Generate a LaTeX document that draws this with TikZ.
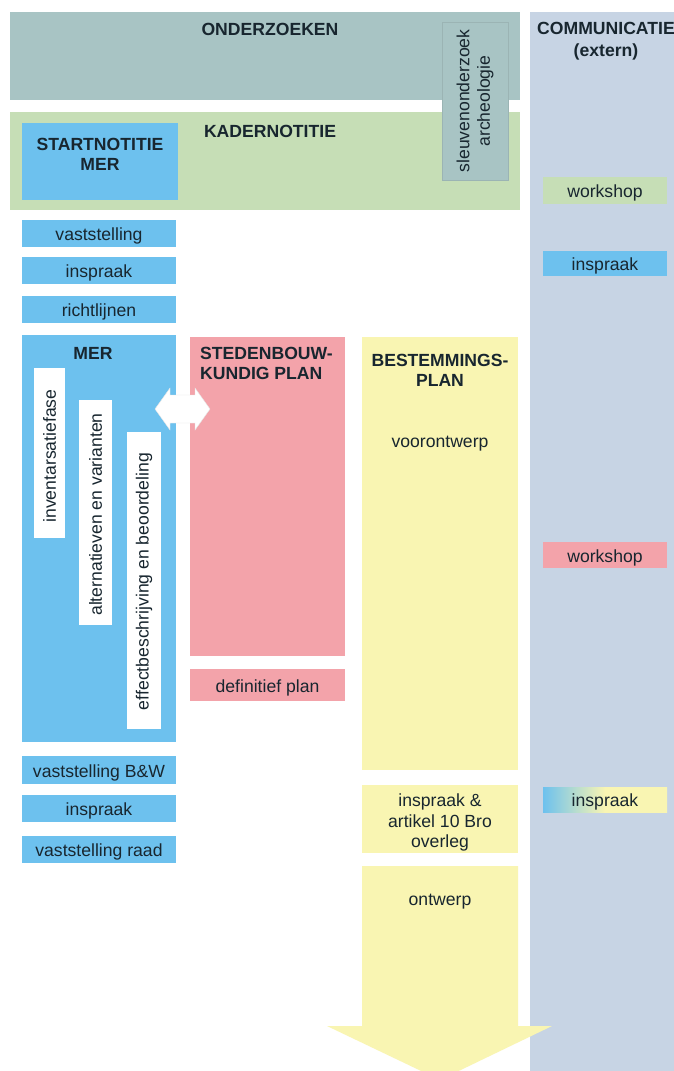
\documentclass[tikz,border=0pt]{standalone}
\usepackage{fontspec}
\setmainfont{Liberation Sans}
\definecolor{cteal}{HTML}{A8C4C4}
\definecolor{cgreen}{HTML}{C6DEB6}
\definecolor{cblue}{HTML}{6DC1EE}
\definecolor{cpink}{HTML}{F3A3AA}
\definecolor{cyellow}{HTML}{F9F5B2}
\definecolor{ccomm}{HTML}{C7D4E4}
\definecolor{ctext}{HTML}{18262F}
\begin{document}
\begin{tikzpicture}[x=1pt,y=-1pt,
  area/.style={draw=none, inner sep=0, outer sep=0, anchor=north west},
  lbl/.style={font=\fontsize{17.6}{20}\selectfont\bfseries, text=ctext, align=center, inner sep=0},
  rtxt/.style={font=\fontsize{17.6}{20.5}\selectfont, text=ctext, align=center, inner sep=0},
  txt/.style={rtxt, yshift=-2.5pt},
  wbox/.style={area, fill=white}
]
\useasboundingbox (0,0) rectangle (674,1071);
\fill[white] (0,0) rectangle (674,1071);

% communication column
\node[area, fill=ccomm, minimum width=144, minimum height=1060] (comm) at (530,12) {};
\node[lbl] (commt) at (606,41) {COMMUNICATIE\\[2pt](extern)};

% onderzoeken
\node[area, fill=cteal, minimum width=510, minimum height=88] (onz) at (10,12) {};
\node[lbl] (onzt) at (270,29) {ONDERZOEKEN};

% kadernotitie
\node[area, fill=cgreen, minimum width=510, minimum height=98] (kad) at (10,112) {};
\node[lbl] (kadt) at (270,131) {KADERNOTITIE};
\node[area, fill=cblue, minimum width=156, minimum height=77] (start) at (22,123) {};
\node[lbl] (startt) at (100,154) {STARTNOTITIE\\MER};

% sleuvenonderzoek
\node[area, fill=cteal, draw=cteal!92!black, line width=0.3pt, minimum width=66, minimum height=158] (sleuv) at (442,22) {};
\node[rtxt, rotate=90] (sleuvt) at (sleuv.center) {sleuvenonderzoek\\archeologie};

% communication items
\node[area, fill=cgreen, minimum width=124, minimum height=27] (ws1) at (543,177) {};
\node[txt] at (ws1.center) {workshop};
\node[area, fill=cblue, minimum width=124, minimum height=25] (insp1) at (543,251) {};
\node[txt] at (insp1.center) {inspraak};
\node[area, fill=cpink, minimum width=124, minimum height=26] (ws2) at (543,542) {};
\node[txt] at (ws2.center) {workshop};
\node[area, left color=cblue, right color=cyellow, middle color=cyellow, minimum width=124, minimum height=25] (insp2) at (543,787) {};
\node[txt] at (insp2.center) {inspraak};

% MER column
\node[area, fill=cblue, minimum width=154, minimum height=27] (vst) at (22,220) {};
\node[txt] at (vst.center) {vaststelling};
\node[area, fill=cblue, minimum width=154, minimum height=27] (insp) at (22,257) {};
\node[txt] at (insp.center) {inspraak};
\node[area, fill=cblue, minimum width=154, minimum height=27] (richt) at (22,296) {};
\node[txt] at (richt.center) {richtlijnen};

\node[area, fill=cblue, minimum width=154, minimum height=407] (mer) at (22,335) {};
\node[lbl] (mert) at (93,353) {MER};
\node[wbox, minimum width=31, minimum height=170] (inv) at (34,368) {};
\node[rtxt, rotate=90] at ([yshift=-3pt]inv.center) {inventarsatiefase};
\node[wbox, minimum width=33, minimum height=225] (alt) at (79,400) {};
\node[rtxt, rotate=90] at ([yshift=-2pt]alt.center) {alternatieven en varianten};
\node[wbox, minimum width=34, minimum height=297] (eff) at (127,432) {};
\node[rtxt, rotate=90] at ([yshift=-1pt]eff.center) {effectbeschrijving en beoordeling};

\node[area, fill=cblue, minimum width=154, minimum height=28] (vbw) at (22,756) {};
\node[txt] at (vbw.center) {vaststelling B\&W};
\node[area, fill=cblue, minimum width=154, minimum height=27] (insp3) at (22,795) {};
\node[txt] at (insp3.center) {inspraak};
\node[area, fill=cblue, minimum width=154, minimum height=27] (vr) at (22,836) {};
\node[txt] at (vr.center) {vaststelling raad};

% stedenbouwkundig plan
\node[area, fill=cpink, minimum width=155, minimum height=319] (stb) at (190,337) {};
\node[lbl, align=left, anchor=north west] (stbt) at (200,347) {STEDENBOUW-\\KUNDIG PLAN};
\node[area, fill=cpink, minimum width=155, minimum height=32] (def) at (190,669) {};
\node[txt] at (def.center) {definitief plan};

% double arrow between MER and stedenbouwkundig plan
\fill[white, draw=gray!20, line width=0.4pt]
  (155,409) -- (170,388) -- (170,395) -- (195,395) -- (195,388) -- (210,409)
  -- (195,430) -- (195,423) -- (170,423) -- (170,430) -- cycle;

% bestemmingsplan
\node[area, fill=cyellow, minimum width=156, minimum height=433] (bp) at (362,337) {};
\node[lbl] (bpt) at (440,370) {BESTEMMINGS-\\PLAN};
\node[txt] (voor) at (440,441) {voorontwerp};
\node[area, fill=cyellow, minimum width=156, minimum height=68] (ia) at (362,785) {};
\node[txt, yshift=-1pt] at (ia.center) {inspraak \&\\artikel 10 Bro\\overleg};

% ontwerp arrow
\fill[cyellow] (362,866) -- (518,866) -- (518,1026) -- (552,1026) -- (440,1080)
  -- (327,1026) -- (362,1026) -- cycle;
\node[txt] (ontw) at (440,899) {ontwerp};
\end{tikzpicture}
\end{document}
